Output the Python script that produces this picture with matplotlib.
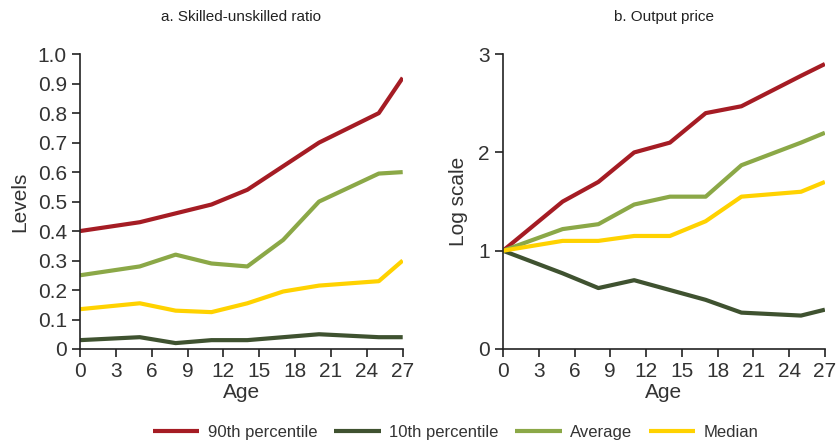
import matplotlib
matplotlib.use("Agg")
import matplotlib.pyplot as plt
from matplotlib import font_manager

# data
age = [0, 5, 8, 11, 14, 17, 20, 25, 27]

ratio_p90 = [0.40, 0.43, 0.46, 0.49, 0.54, 0.62, 0.70, 0.80, 0.92]
ratio_p10 = [0.03, 0.04, 0.02, 0.03, 0.03, 0.04, 0.05, 0.04, 0.04]
ratio_avg = [0.25, 0.28, 0.32, 0.29, 0.28, 0.37, 0.50, 0.595, 0.60]
ratio_med = [0.135, 0.155, 0.13, 0.125, 0.155, 0.195, 0.215, 0.23, 0.30]

price_p90 = [1.0, 1.5, 1.7, 2.0, 2.1, 2.4, 2.47, 2.78, 2.9]
price_p10 = [1.0, 0.77, 0.62, 0.70, 0.60, 0.50, 0.37, 0.34, 0.40]
price_avg = [1.0, 1.22, 1.27, 1.47, 1.55, 1.55, 1.87, 2.10, 2.20]
price_med = [1.0, 1.10, 1.10, 1.15, 1.15, 1.30, 1.55, 1.60, 1.70]

series_names = ["90th percentile", "10th percentile", "Average", "Median"]
colors = ["#A51C24", "#3F5230", "#8BA847", "#FFD200"]

x_ticks = list(range(0, 28, 3))
ratio_ticks = [0, 0.1, 0.2, 0.3, 0.4, 0.5, 0.6, 0.7, 0.8, 0.9, 1.0]
ratio_labels = ["0"] + [f"{v:.1f}" for v in ratio_ticks[1:]]
price_ticks = [0, 1, 2, 3]

installed = {f.name for f in font_manager.fontManager.ttflist}
family = "Liberation Sans Narrow" if "Liberation Sans Narrow" in installed else "Liberation Sans"
plt.rcParams["font.family"] = [family, "DejaVu Sans"]

fig = plt.figure(figsize=(8.36, 4.44), dpi=100)
ax1 = fig.add_axes([0.0957, 0.214, 0.386, 0.664])
ax2 = fig.add_axes([0.6017, 0.214, 0.385, 0.664])

text_color = "#333333"


def style_axis(ax, title, ylabel, labelpad):
    for side in ["top", "right"]:
        ax.spines[side].set_visible(False)
    for side in ["left", "bottom"]:
        ax.spines[side].set_color("#222222")
        ax.spines[side].set_linewidth(1.2)
    ax.set_xlim(0, 27)
    ax.set_xticks(x_ticks)
    ax.tick_params(axis="both", labelsize=15, colors="#222222", labelcolor=text_color,
                   length=6, width=1.2)
    ax.set_xlabel("Age", fontsize=15, color=text_color, labelpad=1)
    ax.set_ylabel(ylabel, fontsize=15, color=text_color, labelpad=labelpad)
    ax.set_title(title, fontsize=11, color="#222222", pad=24)


lw = 3
for vals, c in zip([ratio_p90, ratio_p10, ratio_avg, ratio_med], colors):
    ax1.plot(age, vals, color=c, lw=lw, solid_capstyle="butt")
ax1.set_ylim(0, 1.0)
ax1.set_yticks(ratio_ticks)
ax1.set_yticklabels(ratio_labels)
style_axis(ax1, "a. Skilled-unskilled ratio", "Levels", 6)

lines = []
for vals, c, name in zip([price_p90, price_p10, price_avg, price_med], colors, series_names):
    ln, = ax2.plot(age, vals, color=c, lw=lw, label=name, solid_capstyle="butt")
    lines.append(ln)
ax2.set_ylim(0, 3)
ax2.set_yticks(price_ticks)
style_axis(ax2, "b. Output price", "Log scale", 7)

fig.legend(handles=lines, loc="lower center", ncol=4, frameon=False,
           bbox_to_anchor=(0.545, -0.025), fontsize=12, handlelength=2.8,
           columnspacing=1.0, handletextpad=0.5, labelcolor=text_color)

fig.savefig("out.png", dpi=100)
